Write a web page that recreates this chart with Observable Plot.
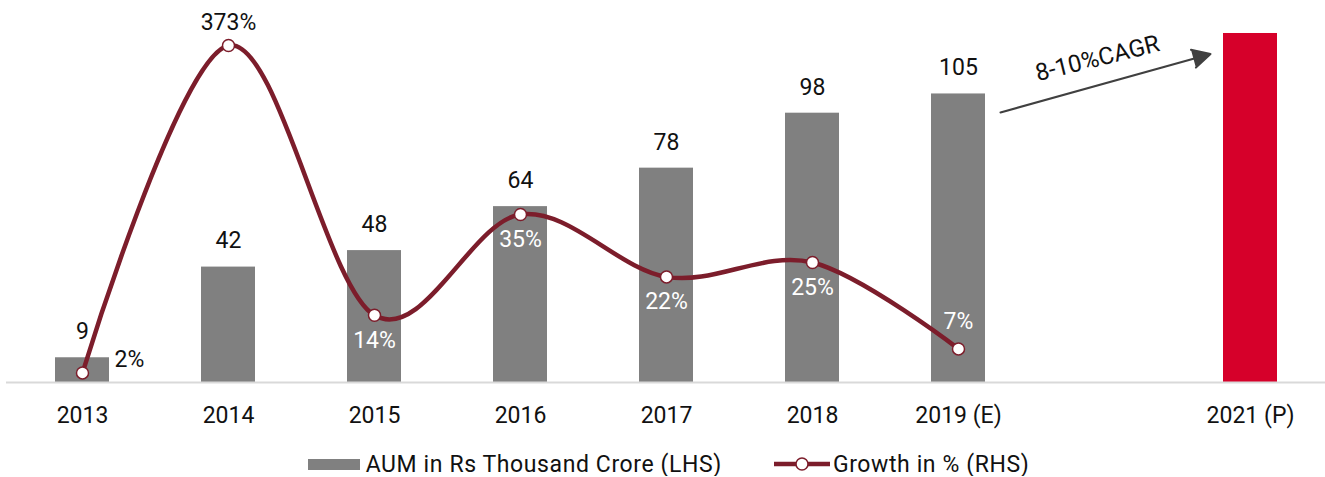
<!DOCTYPE html>
<html><head><meta charset="utf-8">
<script src="https://cdn.jsdelivr.net/npm/d3@7"></script>
<script src="https://cdn.jsdelivr.net/npm/@observablehq/plot@0.6"></script>
<style>
html,body{margin:0;background:#fff;font-family:Roboto,"Noto Sans",sans-serif;overflow:hidden;}
#chart{position:relative;width:1325px;height:440px;}
#chart svg{position:absolute;left:0;top:0;}
#legend{display:flex;justify-content:center;align-items:center;height:24px;margin-top:12px;padding-left:12px;width:1313px;font-size:23px;letter-spacing:0.6px;color:#111;line-height:1;}
#legend span{white-space:nowrap;line-height:1;}
</style></head><body>
<div id="chart"></div>
<div id="legend"></div>
<script>
// ---- data ----
const slots = ["2013","2014","2015","2016","2017","2018","2019 (E)","2020","2021 (P)"];
const tickLabels = ["2013","2014","2015","2016","2017","2018","2019 (E)","2021 (P)"];
const barYears = ["2013","2014","2015","2016","2017","2018","2019 (E)","2021 (P)"];
const aum = [9,42,48,64,78,98,105,127];
const aumLabels = ["9","42","48","64","78","98","105",""];
const growthYears = ["2013","2014","2015","2016","2017","2018","2019 (E)"];
const growth = [2,373,14,35,22,25,7];
const growthLabels = ["2%","373%","14%","35%","22%","25%","7%"];
const cagrLabel = "8-10%CAGR";
const arrowStart = {year:"2019 (E)", aum:94};
const arrowEnd = {year:"2021 (P)", aum:123.6};
const cagrPos = {year:"2020", aum:117.9};
const legendLabels = ["AUM in Rs Thousand Crore (LHS)","Growth in % (RHS)"];
const projectedYears = ["2021 (P)"];
const growthLabelRight = ["2013"], growthLabelAbove = ["2014"], growthLabelAboveWhite = ["2019 (E)"];

// ---- styles ----
const GRAY = "#808080", RED = "#d6002a", MAROON = "#7c1d2b", ARROW = "#404040";
const W = 1325, H = 440, ML = 6, MR = 0, MT = 22, MB = 58;
const FONT = 23;

const bars = barYears.map((year,i)=>({year, aum:aum[i], label:aumLabels[i]}));
const pts = growthYears.map((year,i)=>({year, growth:growth[i], label:growthLabels[i]}));

const xOpts = {type:"band", domain:slots, paddingInner:0.631, paddingOuter:0.317, align:0.5};
const common = {width:W, height:H, marginLeft:ML, marginRight:MR, marginTop:MT, marginBottom:MB,
  style:{fontFamily:"Roboto, 'Noto Sans', sans-serif", fontSize:FONT+"px", background:"transparent", overflow:"visible"}};

const barPlot = Plot.plot({
  ...common,
  x:{...xOpts, axis:null},
  y:{domain:[0,131], axis:null},
  marks:[
    Plot.barY(bars.filter(d=>!projectedYears.includes(d.year)), {x:"year", y:"aum", fill:GRAY}),
    Plot.barY(bars.filter(d=>projectedYears.includes(d.year)), {x:"year", y:"aum", fill:RED}),
    Plot.ruleY([0], {stroke:"#d9d9d9", strokeWidth:2}),
    Plot.text(bars.filter(d=>d.label), {x:"year", y:"aum", text:"label", dy:-26, fontSize:FONT, fill:"#111"}),
    Plot.axisX({ticks:tickLabels, tickSize:0, tickPadding:24, fontSize:FONT, fill:"#111", label:null}),
    Plot.arrow([{}], {x1:()=>arrowStart.year, y1:()=>arrowStart.aum, x2:()=>arrowEnd.year, y2:()=>arrowEnd.aum,
      insetStart:43.6, insetEnd:41.5, headLength:15, headAngle:55, stroke:ARROW, fill:ARROW, strokeWidth:2, strokeLinejoin:"miter"}),
    Plot.text([cagrPos], {x:"year", y:"aum", text:()=>cagrLabel, rotate:-14, dx:-7, fontSize:24, fill:"#111"})
  ]
});

const lineTop = Plot.plot({
  ...common,
  x:{...xOpts, axis:null},
  y:{type:"linear", domain:[0,35,373], range:[382,214,45], axis:null},
  marks:[
    Plot.line(pts, {x:"year", y:"growth", stroke:MAROON, strokeWidth:4.5, curve:"cardinal", tension:0}),
    Plot.dot(pts, {x:"year", y:"growth", r:6, fill:"#fff", stroke:MAROON, strokeWidth:1.5}),
    Plot.text(pts.filter(d=>growthLabelRight.includes(d.year)), {x:"year", y:"growth", text:"label", dx:32, dy:-13, textAnchor:"start", fontSize:FONT, fill:"#111"}),
    Plot.text(pts.filter(d=>growthLabelAbove.includes(d.year)), {x:"year", y:"growth", text:"label", dy:-23, fontSize:FONT, fill:"#111"}),
    Plot.text(pts.filter(d=>growthLabelAboveWhite.includes(d.year)), {x:"year", y:"growth", text:"label", dy:-27, fontSize:FONT, fill:"#fff"}),
    Plot.text(pts.filter(d=>!growthLabelRight.includes(d.year)&&!growthLabelAbove.includes(d.year)&&!growthLabelAboveWhite.includes(d.year)),
      {x:"year", y:"growth", text:"label", dy:25, fontSize:FONT, fill:"#fff"})
  ]
});

const chart = document.getElementById("chart");
chart.appendChild(barPlot);
chart.appendChild(lineTop);

const legend = document.getElementById("legend");
legend.innerHTML = `
<svg width="52" height="11"><rect width="52" height="11" fill="${GRAY}"/></svg>
<span style="margin-left:6px">${legendLabels[0]}</span>
<svg width="56" height="14" style="margin-left:52px"><line x1="0" y1="7" x2="56" y2="7" stroke="${MAROON}" stroke-width="4.5"/><circle cx="28" cy="7" r="6" fill="#fff" stroke="${MAROON}" stroke-width="1.5"/></svg>
<span style="margin-left:3px">${legendLabels[1]}</span>`;
</script>
</body></html>
